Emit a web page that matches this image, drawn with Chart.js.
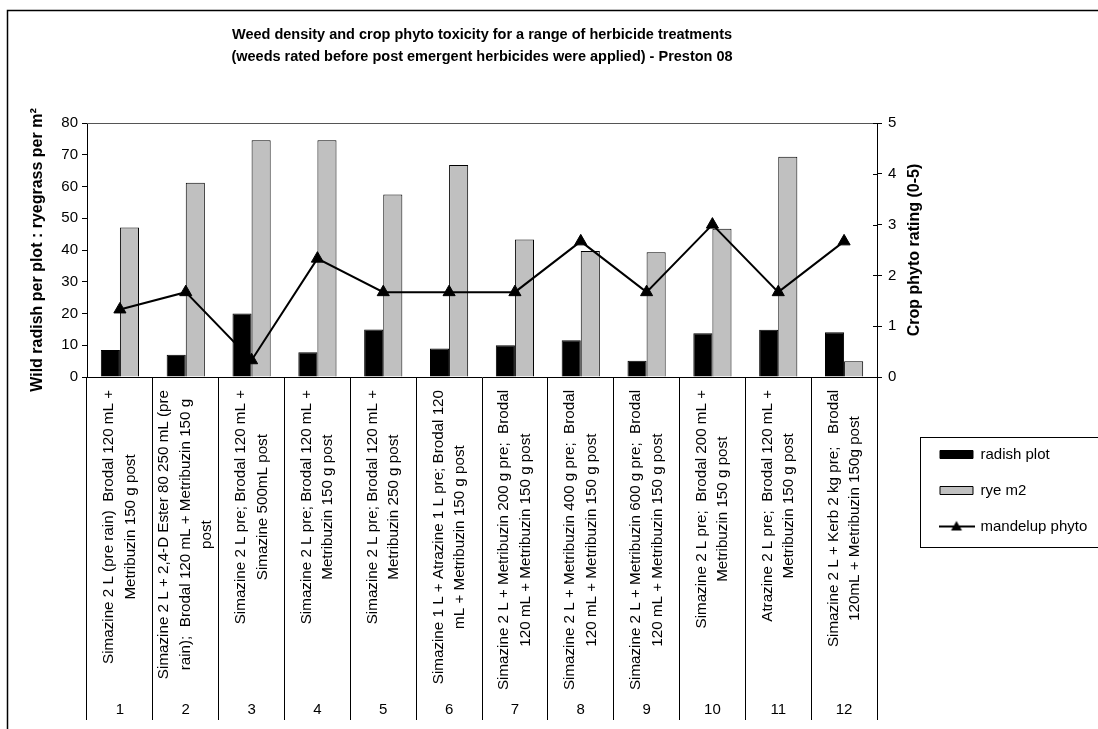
<!DOCTYPE html>
<html lang="en">
<head>
  <meta charset="UTF-8">
  <title>Weed density and crop phyto toxicity - Preston 08</title>
  <script src="https://cdn.jsdelivr.net/npm/chart.js"></script>
  <style>
    body { margin: 0; background: #fff; }
    #wrap { width: 1098px; height: 729px; }
  </style>
</head>
<body>
  <div id="wrap"><canvas id="weedChart"></canvas></div>

  <script>
    // treatment numbers and descriptions
    const treatmentNumbers = ['1', '2', '3', '4', '5', '6', '7', '8', '9', '10', '11', '12'];
    const treatments = [
      ['Simazine 2 L (pre rain)  Brodal 120 mL +', 'Metribuzin 150 g post'],
      ['Simazine 2 L + 2,4-D Ester 80 250 mL (pre', 'rain);  Brodal 120 mL + Metribuzin 150 g', 'post'],
      ['Simazine 2 L pre; Brodal 120 mL +', 'Simazine 500mL post'],
      ['Simazine 2 L pre; Brodal 120 mL +', 'Metribuzin 150 g post'],
      ['Simazine 2 L pre; Brodal 120 mL +', 'Metribuzin 250 g post'],
      ['Simazine 1 L + Atrazine 1 L pre; Brodal 120', 'mL + Metribuzin 150 g post'],
      ['Simazine 2 L + Metribuzin 200 g pre;  Brodal', '120 mL + Metribuzin 150 g post'],
      ['Simazine 2 L + Metribuzin 400 g pre;  Brodal', '120 mL + Metribuzin 150 g post'],
      ['Simazine 2 L + Metribuzin 600 g pre;  Brodal', '120 mL + Metribuzin 150 g post'],
      ['Simazine 2 L pre;  Brodal 200 mL +', 'Metribuzin 150 g post'],
      ['Atrazine 2 L pre;  Brodal 120 mL +', 'Metribuzin 150 g post'],
      ['Simazine 2 L + Kerb 2 kg pre;   Brodal', '120mL + Metribuzin 150g post']
    ];

    // series values
    const radishPlot = [8.5, 7.0, 20.0, 7.8, 15.0, 9.0, 10.0, 11.6, 5.1, 13.8, 14.9, 14.1];
    const ryeM2 = [47.1, 61.2, 74.6, 74.6, 57.5, 66.8, 43.3, 39.7, 39.3, 46.7, 69.4, 5.0];
    const mandelupPhyto = [1.33, 1.67, 0.33, 2.33, 1.67, 1.67, 1.67, 2.67, 1.67, 3.0, 1.67, 2.67];

    const titleLines = [
      'Weed density and crop phyto toxicity for a range of herbicide treatments',
      '(weeds rated before post emergent herbicides were applied) - Preston 08'
    ];
    const leftTitle = 'Wild radish per plot : ryegrass per m\u00B2';
    const rightTitle = 'Crop phyto rating (0-5)';

    const fontFamily = "'Liberation Sans', Arial, sans-serif";
    Chart.defaults.font.family = fontFamily;
    Chart.defaults.color = '#000';

    // legend symbol for the line series: line with a triangle
    function lineSymbol() {
      const c = document.createElement('canvas');
      c.width = 36;
      c.height = 14;
      const g = c.getContext('2d');
      g.strokeStyle = '#000';
      g.lineWidth = 2;
      g.beginPath();
      g.moveTo(0, 7);
      g.lineTo(36, 7);
      g.stroke();
      g.fillStyle = '#000';
      g.beginPath();
      g.moveTo(18, 1.5);
      g.lineTo(23.5, 11);
      g.lineTo(12.5, 11);
      g.closePath();
      g.fill();
      return c;
    }
    const phytoSymbol = lineSymbol();

    // frame, plot border, category texts, right axis title, legend placement
    const chartDecor = {
      id: 'chartDecor',
      afterLayout(chart) {
        const lg = chart.legend;
        lg.left = 919;
        lg.top = 426;
        lg.right = 1098;
        lg.bottom = 560;
        lg.width = lg.right - lg.left;
        lg.height = lg.bottom - lg.top;
      },
      afterDraw(chart) {
        const { ctx, chartArea, scales } = chart;
        ctx.save();

        ctx.strokeStyle = '#000';
        ctx.lineWidth = 1.5;
        ctx.strokeRect(7.5, 10.5, 1200, 800);

        ctx.strokeStyle = '#555';
        ctx.lineWidth = 1;
        ctx.beginPath();
        ctx.moveTo(chartArea.left, chartArea.top + 0.5);
        ctx.lineTo(chartArea.right, chartArea.top + 0.5);
        ctx.stroke();

        // right axis ticks cross the axis line
        ctx.strokeStyle = '#000';
        ctx.beginPath();
        scales.y2.ticks.forEach(t => {
          const py = Math.round(scales.y2.getPixelForValue(t.value)) + 0.5;
          ctx.moveTo(scales.y2.left - 4, py);
          ctx.lineTo(scales.y2.left, py);
        });
        ctx.stroke();

        ctx.strokeRect(920.5, 437.5, 300, 110);

        ctx.fillStyle = '#000';
        ctx.font = '15.2px ' + fontFamily;
        ctx.textAlign = 'center';
        ctx.textBaseline = 'middle';
        treatments.forEach((lines, i) => {
          const cx = scales.x.getPixelForValue(i);
          const w = Math.max(...lines.map(l => ctx.measureText(l).width));
          const cy = scales.x.top + 13 + w / 2;
          lines.forEach((line, j) => {
            ctx.save();
            ctx.translate(cx + (j - (lines.length - 1) / 2) * 21.5, cy);
            ctx.rotate(-Math.PI / 2);
            ctx.fillText(line, 0, 0);
            ctx.restore();
          });
        });

        ctx.font = 'bold 16px ' + fontFamily;
        ctx.translate(scales.y2.left + 38, (chartArea.top + chartArea.bottom) / 2);
        ctx.rotate(-Math.PI / 2);
        ctx.fillText(rightTitle, 0, 0);
        ctx.restore();
      }
    };

    const ctxWeed = document.getElementById('weedChart').getContext('2d');
    const weedChart = new Chart(ctxWeed, {
      type: 'bar',
      data: {
        labels: treatmentNumbers,
        datasets: [
          {
            label: 'radish plot',
            data: radishPlot,
            backgroundColor: '#000',
            borderColor: '#000',
            borderWidth: 1,
            yAxisID: 'y',
            order: 1
          },
          {
            label: 'rye m2',
            data: ryeM2,
            backgroundColor: '#C0C0C0',
            borderColor: '#000',
            borderWidth: 1,
            yAxisID: 'y',
            order: 1
          },
          {
            type: 'line',
            label: 'mandelup phyto',
            data: mandelupPhyto,
            borderColor: '#000',
            borderWidth: 2,
            tension: 0,
            pointStyle: 'triangle',
            pointRadius: 7,
            pointBackgroundColor: '#000',
            pointBorderColor: '#000',
            pointBorderWidth: 1,
            yAxisID: 'y2',
            order: 0
          }
        ]
      },
      options: {
        responsive: true,
        maintainAspectRatio: false,
        animation: false,
        layout: { padding: { left: 0, right: 181, top: 0, bottom: 0 } },
        datasets: {
          bar: { categoryPercentage: 0.58, barPercentage: 1 }
        },
        scales: {
          x: {
            grid: { drawOnChartArea: false, tickLength: 343, color: '#000', offset: true },
            border: { color: '#000', width: 1 },
            ticks: { padding: -19, font: { size: 15 }, maxRotation: 0, autoSkip: false },
            afterFit(axis) { axis.height = 352; }
          },
          y: {
            position: 'left',
            min: 0,
            max: 80,
            ticks: { stepSize: 10, padding: 4, font: { size: 15 } },
            grid: { drawOnChartArea: false, tickLength: 5, color: '#000' },
            border: { color: '#000', width: 1 },
            title: {
              display: true,
              text: leftTitle,
              font: { size: 16, weight: 'bold' },
              padding: { top: 28, bottom: 0 }
            },
            afterFit(axis) { axis.width = 87; }
          },
          y2: {
            position: 'right',
            min: 0,
            max: 5,
            ticks: { stepSize: 1, padding: 6, font: { size: 15 } },
            grid: { drawOnChartArea: false, tickLength: 5, color: '#000' },
            border: { color: '#000', width: 1 },
            afterFit(axis) { axis.width = 40; }
          }
        },
        plugins: {
          title: {
            display: true,
            text: titleLines,
            fullSize: false,
            color: '#000',
            font: { size: 14.5, weight: 'bold', lineHeight: '22px' },
            padding: { top: 24, bottom: 55 }
          },
          legend: {
            position: 'chartArea',
            align: 'start',
            labels: {
              usePointStyle: true,
              pointStyleWidth: 33,
              boxHeight: 8,
              padding: 21,
              color: '#000',
              font: { size: 15 },
              sort: (a, b) => a.datasetIndex - b.datasetIndex,
              generateLabels(chart) {
                const items = Chart.defaults.plugins.legend.labels.generateLabels(chart);
                items.forEach(it => {
                  it.pointStyle = it.datasetIndex === 2 ? phytoSymbol : 'rect';
                });
                return items;
              }
            }
          },
          tooltip: { enabled: false }
        }
      },
      plugins: [chartDecor]
    });
  </script>
</body>
</html>
